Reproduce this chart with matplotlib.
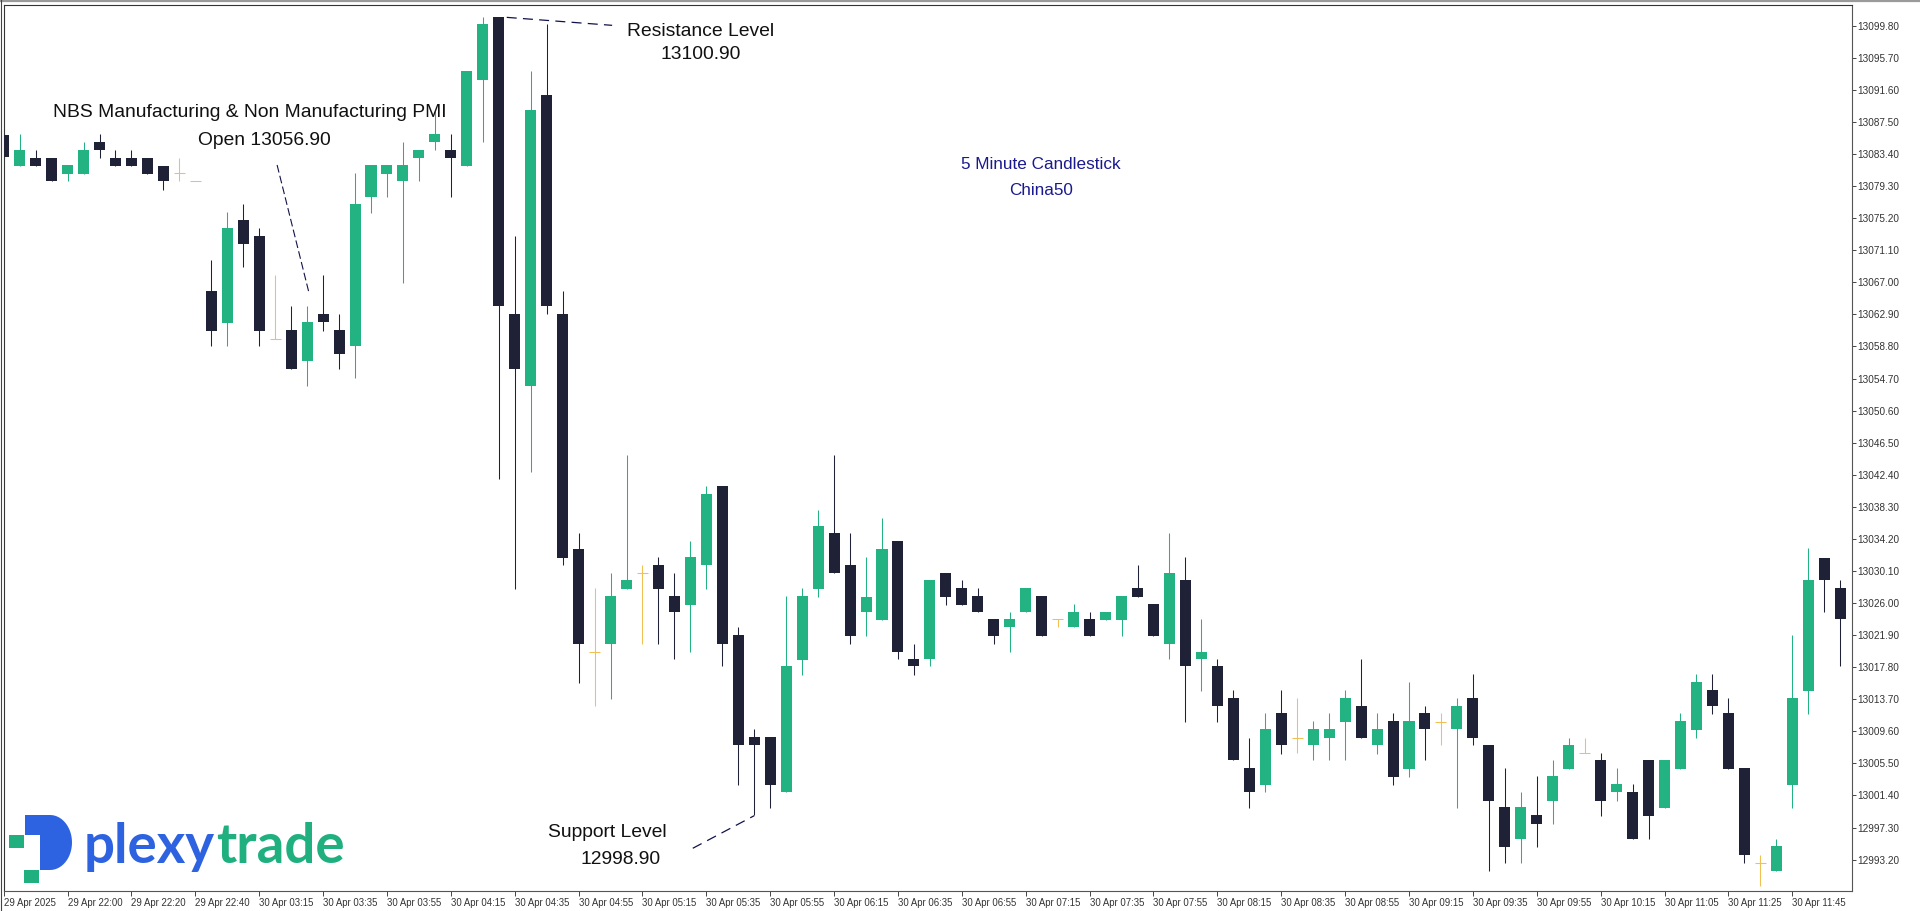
import matplotlib
matplotlib.use("Agg")
import matplotlib.pyplot as plt
from matplotlib.lines import Line2D
from matplotlib.patches import Rectangle, Polygon
import numpy as np

# 5 minute China50 candles
opens = [13085.8, 13081.9, 13082.9, 13082.9, 13080.9, 13080.9, 13084.9, 13082.9, 13082.9, 13082.9,
         13081.9, 13081.0, 13079.9, 13065.9, 13061.8, 13075.0, 13072.9, 13059.8, 13060.9, 13056.9,
         13063.0, 13060.9, 13058.9, 13077.9, 13080.9, 13079.9, 13082.9, 13084.9, 13083.9, 13081.9,
         13092.9, 13100.9, 13063.0, 13053.8, 13090.9, 13063.0, 13032.9, 13019.8, 13020.8, 13027.8,
         13029.8, 13030.9, 13026.9, 13025.8, 13030.8, 13041.0, 13021.9, 13008.9, 13008.9, 13001.8,
         13018.7, 13027.8, 13034.9, 13030.9, 13024.8, 13023.8, 13033.9, 13018.9, 13018.8, 13029.8,
         13027.9, 13026.9, 13024.0, 13022.9, 13024.8, 13026.9, 13024.0, 13022.9, 13024.0, 13023.8,
         13023.8, 13027.9, 13025.9, 13020.8, 13029.0, 13018.8, 13017.9, 13013.8, 13004.9, 13002.7,
         13011.9, 13008.8, 13007.8, 13008.8, 13010.8, 13012.8, 13007.8, 13010.9, 13004.8, 13011.9,
         13010.8, 13009.9, 13013.9, 13007.9, 12999.9, 12995.8, 12998.9, 13000.7, 13004.8, 13006.8,
         13005.9, 13001.8, 13001.9, 13005.9, 12999.8, 13004.8, 13009.8, 13014.9, 13011.9, 13004.9,
         12992.8, 12991.8, 13002.8, 13014.8, 13031.8, 13027.9]
highs = [13085.9, 13085.9, 13083.9, 13082.9, 13082.0, 13084.9, 13085.9, 13083.9, 13083.9, 13082.9,
         13081.9, 13082.9, 13079.9, 13069.9, 13076.0, 13077.0, 13073.9, 13067.9, 13064.0, 13064.0,
         13067.9, 13063.0, 13081.0, 13082.0, 13082.0, 13084.9, 13083.9, 13088.9, 13085.9, 13094.0,
         13100.9, 13100.9, 13072.9, 13094.0, 13100.0, 13065.9, 13034.9, 13027.9, 13029.8, 13044.9,
         13030.9, 13031.9, 13029.8, 13033.9, 13041.0, 13041.0, 13023.0, 13009.9, 13008.9, 13026.9,
         13027.9, 13037.9, 13044.9, 13034.9, 13031.9, 13036.9, 13033.9, 13020.8, 13029.0, 13029.8,
         13029.0, 13027.9, 13024.0, 13024.9, 13027.9, 13026.9, 13024.0, 13025.9, 13024.9, 13024.9,
         13026.9, 13030.9, 13025.9, 13034.9, 13031.9, 13024.0, 13018.9, 13014.9, 13008.8, 13011.9,
         13014.9, 13013.8, 13010.9, 13011.9, 13014.9, 13018.9, 13011.9, 13011.9, 13015.9, 13012.8,
         13011.9, 13013.9, 13016.9, 13007.9, 13004.9, 13001.9, 13003.9, 13005.9, 13008.8, 13008.8,
         13006.8, 13004.9, 13002.9, 13005.9, 13005.9, 13011.9, 13016.9, 13016.9, 13013.9, 13004.9,
         12993.8, 12995.9, 13021.9, 13033.0, 13031.8, 13029.0]
lows = [13082.9, 13081.9, 13081.9, 13079.9, 13079.9, 13080.9, 13082.9, 13081.9, 13081.9, 13080.9,
        13078.8, 13079.9, 13079.9, 13058.9, 13058.9, 13068.9, 13058.9, 13059.8, 13055.9, 13053.8,
        13060.8, 13055.9, 13054.8, 13075.9, 13077.9, 13066.9, 13079.9, 13083.9, 13077.9, 13081.9,
        13084.9, 13041.8, 13027.8, 13042.8, 13063.0, 13030.8, 13015.8, 13012.8, 13013.7, 13027.8,
        13020.8, 13020.8, 13018.8, 13019.8, 13027.8, 13017.9, 13002.8, 12998.9, 12999.8, 13001.8,
        13016.8, 13026.8, 13029.8, 13020.8, 13021.8, 13023.8, 13018.8, 13016.8, 13017.9, 13025.8,
        13025.8, 13024.8, 13020.8, 13019.8, 13024.8, 13021.8, 13022.9, 13022.9, 13021.8, 13023.8,
        13021.8, 13026.8, 13021.8, 13018.8, 13010.8, 13014.8, 13010.8, 13005.9, 12999.8, 13001.8,
        13006.7, 13006.8, 13005.9, 13005.9, 13005.9, 13008.8, 13006.7, 13002.7, 13003.8, 13005.9,
        13007.8, 12999.8, 13007.8, 12991.8, 12992.8, 12992.8, 12994.8, 12997.8, 13004.8, 13006.8,
        12998.8, 13000.7, 12995.8, 12995.8, 12999.8, 13004.8, 13008.8, 13011.8, 13004.8, 12992.8,
        12989.8, 12991.8, 12999.8, 13011.8, 13024.8, 13017.9]
closes = [13083.0, 13083.9, 13081.9, 13079.9, 13082.0, 13083.9, 13083.9, 13081.9, 13081.9, 13080.9,
          13079.9, 13081.0, 13079.9, 13060.8, 13073.9, 13071.9, 13060.8, 13059.8, 13055.9, 13061.9,
          13061.9, 13057.9, 13077.0, 13082.0, 13082.0, 13082.0, 13083.9, 13085.9, 13082.9, 13094.0,
          13100.0, 13064.0, 13055.9, 13089.0, 13064.0, 13031.8, 13020.8, 13019.8, 13026.9, 13029.0,
          13029.8, 13027.8, 13024.8, 13031.9, 13039.9, 13020.8, 13007.8, 13007.8, 13002.8, 13017.9,
          13026.9, 13035.9, 13029.8, 13021.8, 13026.8, 13032.9, 13019.8, 13017.9, 13029.0, 13026.8,
          13025.8, 13024.8, 13021.8, 13024.0, 13027.9, 13021.8, 13024.0, 13024.9, 13021.8, 13024.9,
          13026.9, 13026.8, 13021.8, 13029.8, 13017.9, 13019.8, 13012.8, 13005.9, 13001.8, 13009.9,
          13007.8, 13008.8, 13009.9, 13009.9, 13013.9, 13008.8, 13009.9, 13003.8, 13010.9, 13009.9,
          13010.8, 13012.8, 13008.8, 13000.7, 12994.8, 12999.9, 12997.8, 13003.9, 13007.9, 13006.8,
          13000.7, 13002.9, 12995.8, 12998.8, 13005.9, 13010.9, 13015.9, 13012.8, 13004.8, 12993.8,
          12992.8, 12994.9, 13013.9, 13029.0, 13028.9, 13023.9]

# one label every 4 bars
time_labels = ["29 Apr 2025", "29 Apr 22:00", "29 Apr 22:20", "29 Apr 22:40", "30 Apr 03:15",
               "30 Apr 03:35", "30 Apr 03:55", "30 Apr 04:15", "30 Apr 04:35", "30 Apr 04:55",
               "30 Apr 05:15", "30 Apr 05:35", "30 Apr 05:55", "30 Apr 06:15", "30 Apr 06:35",
               "30 Apr 06:55", "30 Apr 07:15", "30 Apr 07:35", "30 Apr 07:55", "30 Apr 08:15",
               "30 Apr 08:35", "30 Apr 08:55", "30 Apr 09:15", "30 Apr 09:35", "30 Apr 09:55",
               "30 Apr 10:15", "30 Apr 11:05", "30 Apr 11:25", "30 Apr 11:45"]

price_ticks = [13099.80, 13095.70, 13091.60, 13087.50, 13083.40, 13079.30, 13075.20, 13071.10,
               13067.00, 13062.90, 13058.80, 13054.70, 13050.60, 13046.50, 13042.40, 13038.30,
               13034.20, 13030.10, 13026.00, 13021.90, 13017.80, 13013.70, 13009.60, 13005.50,
               13001.40, 12997.30, 12993.20]

UP = "#23b282"
DOWN = "#1f2237"
DOJI = "#f0c050"
NAVY = "#12124a"

W, H = 1920, 911
fig = plt.figure(figsize=(W / 100, H / 100), dpi=100)
fig.patch.set_facecolor("white")
plt.rcParams["font.family"] = ["Liberation Sans", "DejaVu Sans"]

ax = fig.add_axes([3.7 / W, 20 / H, 1847.8 / W, 886 / H])
ax.set_facecolor("white")

o = np.array(opens)
hi = np.array(highs)
lo = np.array(lows)
c = np.array(closes)
x = np.arange(len(o))

colors = np.where(c > o, UP, np.where(c < o, DOWN, DOJI))
bw = 0.69

ax.vlines(x, lo, hi, colors=colors, lw=0.75, zorder=2)
body = c != o
ax.bar(x[body], np.abs(c - o)[body], bottom=np.minimum(o, c)[body], width=bw,
       color=colors[body], linewidth=0, zorder=3)
dj = ~body
ax.hlines(o[dj], x[dj] - bw / 2, x[dj] + bw / 2, colors=DOJI, lw=0.75, zorder=3)

ax.set_xlim(0.078, 115.71)
ax.set_ylim(12989.19, 13102.45)

ax.yaxis.tick_right()
ax.set_yticks(price_ticks)
ax.set_yticklabels([f"{v:.2f}" for v in price_ticks])
ax.tick_params(axis="y", direction="out", length=3, width=0.7, colors="#444444",
               labelsize=7.2, pad=1, labelcolor="#333333")

ax.set_xticks(np.arange(len(time_labels)) * 4)
ax.set_xticklabels(time_labels, ha="left")
ax.tick_params(axis="x", direction="out", length=3.5, width=0.7, colors="#444444",
               labelsize=6.9, pad=1.5, labelcolor="#333333")

for s in ["left", "top"]:
    ax.spines[s].set_color("#333333")
    ax.spines[s].set_linewidth(0.8)
for s in ["right", "bottom"]:
    ax.spines[s].set_color("#555555")
    ax.spines[s].set_linewidth(0.8)

# outer window frame
fig.add_artist(Line2D([0, 1], [1 - 1.2 / H, 1 - 1.2 / H], transform=fig.transFigure,
                      color="#9a9a9a", lw=1.6))
fig.add_artist(Line2D([1.2 / W, 1.2 / W], [0, 1], transform=fig.transFigure,
                      color="#444444", lw=0.8))

# annotations
dash = dict(color=NAVY, lw=0.9, linestyle=(0, (8, 5)), zorder=4)
ax.plot([31.5, 38.1], [13100.87, 13099.85], **dash)
ax.text(43.65, 13099.03, "Resistance Level", ha="center", va="center", fontsize=13.9, color="#111111")
ax.text(43.65, 13096.18, "13100.90", ha="center", va="center", fontsize=13.9, color="#111111")

ax.plot([17.12, 19.12], [13082.0, 13065.63], color=NAVY, lw=0.8, linestyle=(0, (7, 3)), zorder=4)
ax.text(15.4, 13088.68, "NBS Manufacturing & Non Manufacturing PMI", ha="center", va="center",
        fontsize=13.9, color="#111111")
ax.text(16.3, 13085.19, "Open 13056.90", ha="center", va="center", fontsize=13.9, color="#111111")

ax.plot([43.15, 47.0], [12994.65, 12998.82], **dash)
ax.text(37.77, 12996.73, "Support Level", ha="center", va="center", fontsize=13.9, color="#111111")
ax.text(38.65, 12993.28, "12998.90", ha="center", va="center", fontsize=13.9, color="#111111")

ax.text(64.93, 13082.12, "5 Minute Candlestick", ha="center", va="center", fontsize=12.3, color="#1a1a8e")
ax.text(64.93, 13078.8, "China50", ha="center", va="center", fontsize=12.3, color="#1a1a8e")


# logo (pixel coords -> figure fraction)
def fx(px):
    return px / W


def fy(py):
    return 1 - py / H


BLUE = "#2d62e0"
LGREEN = "#20b07f"
pts = [(25, 815), (50, 815)]
for a in np.linspace(-np.pi / 2, np.pi / 2, 30):
    pts.append((50 + 22 * np.cos(a), 842.5 + 27.5 * np.sin(a)))
pts += [(40, 870), (40, 835), (25, 835)]
fig.add_artist(Polygon([(fx(px), fy(py)) for px, py in pts], closed=True,
                       transform=fig.transFigure, color=BLUE, lw=0))
for (x0, y0) in [(9, 835), (24, 870)]:
    fig.add_artist(Rectangle((fx(x0), fy(y0 + 13)), 15 / W, 13 / H, transform=fig.transFigure,
                             color=LGREEN, lw=0))

t1 = fig.text(fx(84), fy(863), "plexy", fontsize=40, family=["Lato", "DejaVu Sans"],
              weight="bold", color=BLUE, va="baseline", ha="left")
r = fig.canvas.get_renderer()
bb = t1.get_window_extent(r)
t1.set_fontsize(40 * 131 / bb.width)
bb = t1.get_window_extent(r)
fig.text(bb.x1 / W + 1 / W, fy(863), "trade", fontsize=t1.get_fontsize(),
         family=["Lato", "DejaVu Sans"], weight="bold", color=LGREEN, va="baseline", ha="left")

fig.savefig("out.png", dpi=100, facecolor="white")
